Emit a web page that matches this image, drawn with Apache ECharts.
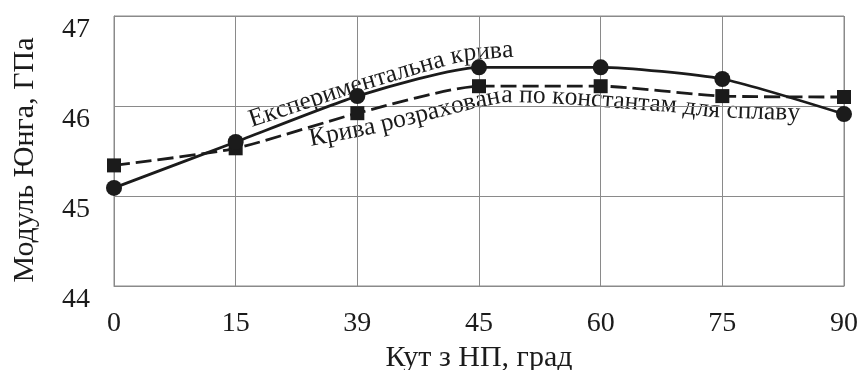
<!DOCTYPE html>
<html>
<head>
<meta charset="utf-8">
<script src="https://cdn.jsdelivr.net/npm/echarts@6/dist/echarts.min.js"></script>
<style>
  html, body { margin: 0; padding: 0; background: #fff; }
  #chart { width: 864px; height: 370px; }
</style>
</head>
<body>
<div id="chart"></div>
<script>
// Angle from the principal direction, degrees (category axis)
const angles = ['0', '15', '39', '45', '60', '75', '90'];
// Young's modulus, GPa
const experimental = [45.09, 45.60, 46.11, 46.43, 46.43, 46.30, 45.91];
const calculated   = [45.34, 45.53, 45.92, 46.22, 46.22, 46.11, 46.10];
const yMin = 44, yMax = 47, yStep = 1;

const expCaption  = 'Експериментальна крива';
const calcCaption = 'Крива розрахована по константам для сплаву';

const FONT = '"Liberation Serif", "DejaVu Serif", serif';
const INK = '#1b1b1b';
const GRID = '#8a8a8a';

// Baselines for the curved captions (pixel polylines)
const expBaseline  = [[252, 128], [360, 92], [455, 64], [470, 61], [522, 57]];
const calcBaseline = [[311, 147], [372, 135], [480, 108], [505, 103], [550, 104], [670, 113], [713, 118], [796, 121]];

// Lay a string out character by character along a polyline
function textAlongPath(text, pts, size) {
  const font = size + 'px ' + FONT;
  const ctx = document.createElement('canvas').getContext('2d');
  ctx.font = font;
  const segs = [];
  let total = 0;
  for (let i = 1; i < pts.length; i++) {
    const dx = pts[i][0] - pts[i - 1][0], dy = pts[i][1] - pts[i - 1][1];
    const len = Math.hypot(dx, dy);
    segs.push({ x0: pts[i - 1][0], y0: pts[i - 1][1], dx, dy, len, start: total });
    total += len;
  }
  const out = [];
  let s = 0;
  for (const ch of text) {
    const w = ctx.measureText(ch).width;
    const mid = s + w / 2;
    const g = segs.find(q => mid <= q.start + q.len) || segs[segs.length - 1];
    const t = (mid - g.start) / g.len;
    const px = g.x0 + g.dx * t, py = g.y0 + g.dy * t;
    const a = Math.atan2(-g.dy, g.dx);
    const off = 0.3 * size;
    out.push({
      type: 'text',
      silent: true,
      x: px - off * Math.sin(a),
      y: py - off * Math.cos(a),
      rotation: a,
      style: { text: ch, font: font, fill: INK, align: 'center', verticalAlign: 'middle' }
    });
    s += w;
  }
  return out;
}

const chart = echarts.init(document.getElementById('chart'), null, { renderer: 'canvas' });

chart.setOption({
  animation: false,
  backgroundColor: '#fff',
  grid: {
    left: 114, right: 20, top: 16, bottom: 84,
    outerBoundsMode: 'none',
    containLabel: false,
    show: true, borderColor: GRID, borderWidth: 1
  },
  xAxis: {
    type: 'category',
    data: angles,
    boundaryGap: false,
    name: 'Кут з НП, град',
    nameLocation: 'middle',
    nameGap: 52,
    nameTextStyle: { fontFamily: FONT, fontSize: 30, color: INK },
    axisLine: { lineStyle: { color: GRID, width: 1 } },
    axisTick: { show: false },
    axisLabel: { fontFamily: FONT, fontSize: 28, color: INK, margin: 24 },
    splitLine: { show: true, lineStyle: { color: GRID, width: 1 } }
  },
  yAxis: {
    type: 'value',
    min: yMin, max: yMax, interval: yStep,
    name: 'Модуль Юнга, ГПа',
    nameLocation: 'middle',
    nameGap: 74,
    nameTextStyle: { fontFamily: FONT, fontSize: 30, color: INK, padding: [0, 18, 0, 0] },
    axisLine: { show: true, lineStyle: { color: GRID, width: 1 } },
    axisTick: { show: false },
    axisLabel: {
      fontFamily: FONT, fontSize: 28, color: INK, margin: 24,
      verticalAlign: 'top'
    },
    splitLine: { show: true, lineStyle: { color: GRID, width: 1 } }
  },
  series: [
    {
      name: 'Розрахована',
      type: 'line',
      data: calculated,
      smooth: 0.2,
      symbol: 'rect',
      symbolSize: 14,
      itemStyle: { color: INK },
      lineStyle: { color: INK, width: 2.8, type: [16, 6] },
      z: 3
    },
    {
      name: 'Експериментальна',
      type: 'line',
      data: experimental,
      smooth: 0.2,
      symbol: 'circle',
      symbolSize: 16,
      itemStyle: { color: INK },
      lineStyle: { color: INK, width: 2.8 },
      z: 4
    }
  ],
  graphic: [
    ...textAlongPath(expCaption, expBaseline, 25.5),
    ...textAlongPath(calcCaption, calcBaseline, 25.5)
  ]
});
</script>
</body>
</html>
